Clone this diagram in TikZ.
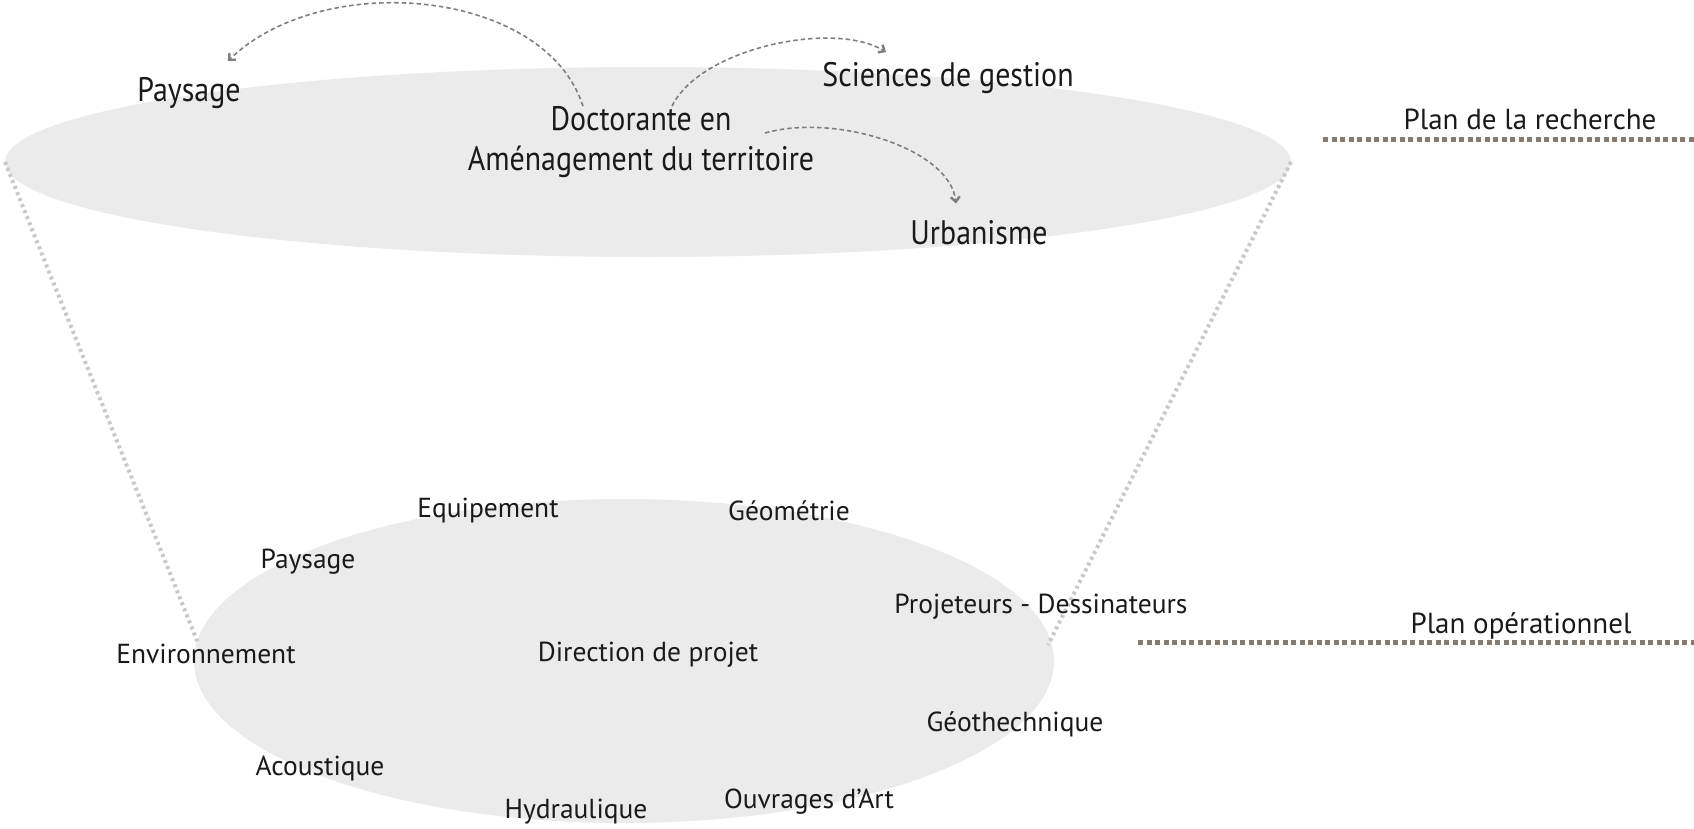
\documentclass[tikz,border=0pt]{standalone}
\usepackage{fontspec}
\setmainfont{PT Sans}
\usepackage{graphicx}
\usetikzlibrary{arrows.meta}
\definecolor{ellfill}{HTML}{EBEBEB}
\definecolor{funnel}{HTML}{C8C8C8}
\definecolor{planline}{HTML}{857B70}
\definecolor{arrowgray}{HTML}{7E7E7E}
\definecolor{txt}{HTML}{1A1A1A}
\newcommand\condtxt[1]{\scalebox{0.88}[1]{#1}}
\begin{document}
\begin{tikzpicture}[x=1pt,y=-1pt,
  toptext/.style={font=\fontsize{34}{40}\selectfont, inner sep=0pt, text=txt, align=center},
  bottext/.style={font=\fontsize{27.5}{32}\selectfont, inner sep=0pt, text=txt},
  plantext/.style={font=\fontsize{29}{34}\selectfont, inner sep=0pt, text=txt},
  funnelline/.style={draw=funnel, line width=4pt, dash pattern=on 3pt off 3.5pt},
  planrule/.style={draw=planline, line width=5pt, dash pattern=on 5pt off 3.5pt},
  linkarrow/.style={draw=arrowgray, line width=1.6pt, dash pattern=on 4.5pt off 3pt,
    -{Straight Barb[length=5pt,width=9pt,line width=2.4pt]}}]
\useasboundingbox (0,0) rectangle (1694,829);
% ellipses
\fill[ellfill] (648,162) ellipse [x radius=643pt, y radius=95pt];
\fill[ellfill] (624,661) ellipse [x radius=430pt, y radius=162pt];
% funnel side lines
\coordinate (tl) at (5,162);
\coordinate (tr) at (1291,162);
\coordinate (bl) at (198,643);
\coordinate (br) at (1048,645);
\draw[funnelline] (tl) -- (bl);
\draw[funnelline] (tr) -- (br);
% plan rules
\coordinate (r1a) at (1323,140);
\coordinate (r1b) at (1694,140);
\coordinate (r2a) at (1138,642);
\coordinate (r2b) at (1694,642);
\draw[planrule] (r1a) -- (r1b);
\draw[planrule] (r2a) -- (r2b);
\node[plantext] (planR) at (1530,119) {Plan de la recherche};
\node[plantext] (planO) at (1521,626) {Plan opérationnel};
% top texts
\node[toptext] (pay) at (189,93) {\condtxt{Paysage}};
\node[toptext] (doc) at (641,142) {\condtxt{Doctorante en}\\\condtxt{Aménagement du territoire}};
\node[toptext] (sci) at (948,78) {\condtxt{Sciences de gestion}};
\node[toptext] (urb) at (979,233) {\condtxt{Urbanisme}};
% arrows
\draw[linkarrow] ([xshift=-58pt]doc.north) .. controls +(-38,-118) and +(95,-92) .. ([xshift=-13pt,yshift=16pt]pay.north east);
\draw[linkarrow] ([xshift=31pt]doc.north) .. controls +(28,-58) and +(-52,-32) .. ([xshift=-62pt,yshift=10pt]sci.north);
\draw[linkarrow] ([xshift=124pt,yshift=9pt]doc.center) .. controls +(70,-20) and +(-6,-55) .. ([xshift=-23pt,yshift=17pt]urb.north);
% bottom texts
\node[bottext] (equ) at (488,511) {Equipement};
\node[bottext] (geo) at (789,511) {Géométrie};
\node[bottext] (pay2) at (308,562) {Paysage};
\node[bottext] (proj) at (1041,607) {Projeteurs - Dessinateurs};
\node[bottext] (env) at (206,654) {Environnement};
\node[bottext] (dir) at (648,655) {Direction de projet};
\node[bottext] (geot) at (1015,724) {Géothechnique};
\node[bottext] (aco) at (320,768) {Acoustique};
\node[bottext] (hyd) at (576,812) {Hydraulique};
\node[bottext] (ouv) at (809,802) {Ouvrages d’Art};
\end{tikzpicture}
\end{document}
